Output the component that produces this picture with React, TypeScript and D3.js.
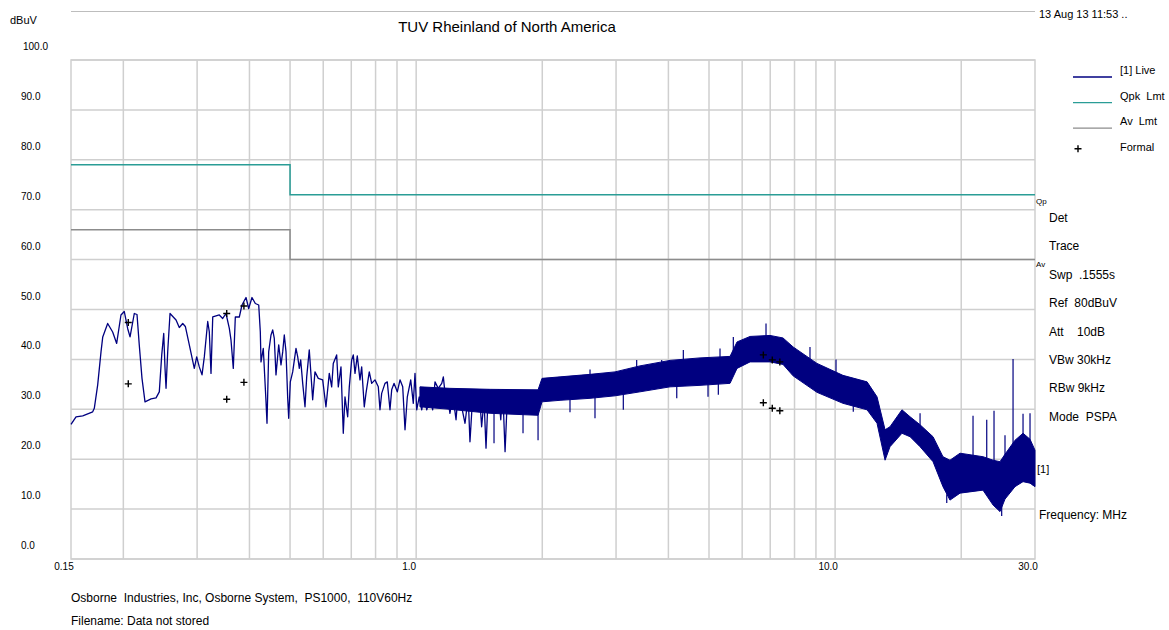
import React from 'react'
import * as d3 from 'd3'

// frequency axis (MHz) and level axis (dBuV)
const xTickLabels = [
  { f: 0.15, label: '0.15' },
  { f: 1, label: '1.0' },
  { f: 10, label: '10.0' },
  { f: 30, label: '30.0' },
]
const yTicks = [0, 10, 20, 30, 40, 50, 60, 70, 80, 90, 100]
const gridFreqs = [0.2, 0.3, 0.4, 0.5, 0.6, 0.7, 0.8, 0.9, 1, 2, 3, 4, 5, 6, 7, 8, 9, 10, 20]

// limit lines [MHz, dBuV]
const qpkLimit = [[0.15, 79], [0.5, 79], [0.5, 73], [30, 73]]
const avLimit = [[0.15, 66], [0.5, 66], [0.5, 60], [30, 60]]

// live trace, low band part read point by point [MHz, dBuV]
const liveTrace = [
  [0.15, 27.0], [0.1542, 28.5], [0.16, 28.7], [0.169, 29.5], [0.1705, 30.2], [0.1737, 34.9], [0.1769, 41.5],
  [0.1786, 44.5], [0.1835, 47.2], [0.1886, 45.5], [0.1928, 43.2], [0.1974, 48.9], [0.201, 49.6], [0.2048, 46.2],
  [0.2075, 44.5], [0.2124, 49.2], [0.2156, 49.0], [0.2183, 42.9], [0.2216, 36.2], [0.2253, 31.5], [0.2329, 32.1],
  [0.2394, 32.3], [0.2437, 33.5], [0.247, 40.9], [0.2497, 45.2], [0.2515, 38.2], [0.2529, 34.2], [0.2552, 41.5],
  [0.2585, 49.2], [0.2672, 47.9], [0.272, 46.4], [0.2772, 47.2], [0.2812, 46.6], [0.2874, 42.9], [0.2954, 38.2],
  [0.2993, 40.5], [0.3036, 38.5], [0.3082, 36.9], [0.3121, 40.5], [0.318, 47.6], [0.3208, 45.5], [0.3238, 37.2],
  [0.3269, 48.5], [0.3389, 48.9], [0.3453, 48.2], [0.3516, 49.2], [0.3581, 46.2], [0.3614, 43.9], [0.366, 38.2],
  [0.3701, 48.5], [0.3783, 48.5], [0.3839, 50.9], [0.3925, 52.4], [0.3983, 50.2], [0.4056, 52.4], [0.4131, 51.2],
  [0.4209, 50.9], [0.4246, 45.5], [0.4262, 39.5], [0.4316, 42.2], [0.4381, 31.5], [0.4405, 27.2], [0.4446, 41.5],
  [0.4503, 44.9], [0.4545, 45.9], [0.4585, 44.2], [0.4628, 36.9], [0.4698, 42.9], [0.4757, 38.9], [0.4802, 41.5],
  [0.4844, 44.9], [0.489, 41.5], [0.4936, 32.2], [0.4963, 28.2], [0.5007, 35.5], [0.5073, 37.5], [0.5166, 42.2],
  [0.5215, 40.5], [0.5261, 38.2], [0.5301, 39.9], [0.536, 35.2], [0.5428, 30.5], [0.5479, 36.5], [0.5557, 41.9],
  [0.5631, 34.9], [0.5662, 31.9], [0.5734, 37.5], [0.5839, 36.2], [0.5982, 35.9], [0.6091, 30.5], [0.6203, 37.2],
  [0.6285, 34.5], [0.6341, 39.2], [0.646, 40.9], [0.6518, 34.5], [0.6615, 38.5], [0.6699, 25.2], [0.6762, 32.5],
  [0.6863, 28.5], [0.6924, 34.5], [0.7016, 39.9], [0.7078, 40.9], [0.7145, 37.2], [0.7235, 40.7], [0.7343, 35.9],
  [0.7412, 38.5], [0.7518, 30.5], [0.7589, 33.2], [0.7728, 37.5], [0.7831, 35.2], [0.7974, 35.9], [0.8121, 34.5],
  [0.8196, 29.9], [0.8273, 33.2], [0.8425, 35.2], [0.8532, 35.5], [0.866, 29.9], [0.8741, 33.9], [0.8853, 35.2],
  [0.9015, 33.5], [0.915, 35.9], [0.9287, 34.5], [0.9405, 25.9], [0.9525, 32.5], [0.9704, 35.9], [0.9844, 31.2],
  [0.9936, 37.2], [1.003, 29.9], [1.017, 32.5], [1.031, 29.9], [1.044, 32.9], [1.06, 29.9], [1.079, 32.2],
  [1.095, 29.9], [1.109, 35.5], [1.129, 34.2], [1.151, 35.2], [1.161, 36.5], [1.172, 33.2], [1.193, 31.5],
  [1.204, 29.2], [1.223, 32.9], [1.245, 27.9], [1.26, 33.5], [1.284, 30.5], [1.308, 27.2], [1.331, 32.5],
  [1.344, 23.5], [1.364, 32.5], [1.394, 31.2], [1.415, 33.5], [1.433, 26.5], [1.452, 31.9], [1.468, 22.2],
  [1.487, 33.9], [1.515, 30.5], [1.543, 31.2], [1.571, 33.9], [1.592, 27.9], [1.609, 33.9], [1.63, 21.5],
  [1.651, 32.5], [1.675, 30.5],
]

// dense part of the live trace as an envelope [MHz, top, bottom]
const liveBand = [
  [1.021, 34.5, 30.5], [1.204, 34.2, 30.0], [1.501, 34.0, 29.2], [1.954, 33.9, 28.8], [1.997, 36.2, 31.5],
  [2.205, 36.5, 31.8], [2.6, 37.0, 32.2], [2.983, 37.5, 32.7], [3.421, 38.7, 33.5], [4.036, 39.8, 34.5],
  [4.759, 40.3, 34.8], [5.613, 40.6, 35.2], [5.833, 43.5, 38.2], [6.266, 44.6, 39.5], [6.992, 44.8, 39.5],
  [7.509, 44.3, 39.0], [7.938, 42.5, 36.7], [9.051, 39.2, 33.4], [10.44, 36.8, 31.2], [11.92, 35.5, 29.9],
  [12.59, 32.5, 27.2], [13.16, 25.9, 19.8], [13.52, 26.5, 22.5], [14.44, 29.9, 25.2], [15.1, 28.5, 24.5],
  [15.95, 26.9, 22.5], [17.13, 24.5, 19.5], [18.09, 20.5, 14.5], [18.8, 19.8, 11.8], [19.87, 21.2, 13.2],
  [22.54, 20.5, 13.8], [23.83, 19.8, 10.8], [24.75, 19.5, 9.5], [25.44, 21.0, 12.0], [26.88, 23.8, 14.5],
  [28.09, 25.2, 15.5], [29.19, 24.0, 15.2], [30, 21.8, 14.5],
]

// single spikes out of the envelope [MHz, from, to]
const liveSpikes = [
  [1.534, 30, 23.2], [1.799, 30, 25.2], [1.954, 30, 23.8], [2.329, 32, 29.4], [2.6, 35, 38.0],
  [2.672, 33, 28.2], [3.122, 33, 29.9], [3.36, 37, 39.9], [3.855, 37, 39.9], [4.188, 35, 32.2],
  [4.342, 39, 41.9], [4.973, 36, 32.5], [5.263, 36, 32.9], [5.312, 39, 42.2], [5.715, 40, 44.5],
  [6.84, 43, 47.2], [8.71, 40, 42.5], [10.05, 36, 40.0], [11.05, 32, 29.5], [15.95, 25, 29.2],
  [18.47, 13, 11.2], [21.34, 18, 28.7], [23.01, 18, 27.9], [23.95, 17, 29.7], [24.98, 11, 8.6],
  [25.44, 20, 24.8], [26.59, 20, 40.1], [28.09, 22, 29.1], [29.19, 22, 29.2], [29.68, 16, 14.8],
]

// formal measurements
const formalQp = [[0.2055, 47.4], [0.353, 49.2], [0.388, 50.7], [6.74, 40.9], [7.08, 39.9], [7.38, 39.5]]
const formalAv = [[0.2055, 35.1], [0.353, 32.0], [0.388, 35.4], [6.74, 31.3], [7.08, 30.2], [7.38, 29.7]]

const legendItems = [
  { label: '[1] Live', color: '#000080', kind: 'line' },
  { label: 'Qpk  Lmt', color: '#2a9d96', kind: 'line' },
  { label: 'Av  Lmt', color: '#8c8c8c', kind: 'line' },
  { label: 'Formal', color: '#000', kind: 'plus' },
]
const settings = ['Det', 'Trace', 'Swp  .1555s', 'Ref  80dBuV', 'Att    10dB', 'VBw 30kHz', 'RBw 9kHz', 'Mode  PSPA']

const W = 1169
const H = 630
const FONT = "'Liberation Sans', Arial, sans-serif"
const GRID = '#cfcfcf'

const App = () => {
  const x = d3.scaleLog().domain([0.15, 30]).range([71, 1035])
  const y = d3.scaleLinear().domain([0, 100]).range([559, 60])

  const line = d3
    .line<number[]>()
    .x((d) => x(d[0]))
    .y((d) => y(d[1]))
  const band = d3
    .area<number[]>()
    .x((d) => x(d[0]))
    .y0((d) => y(d[2]))
    .y1((d) => y(d[1]))

  const plus = (cx: number, cy: number, k: string) => (
    <path key={k} d={`M${cx - 3.5},${cy}H${cx + 3.5}M${cx},${cy - 3.5}V${cy + 3.5}`} stroke="#000" strokeWidth={1.4} />
  )

  return (
    <div style={{ position: 'absolute', left: 0, top: 0 }}>
      <svg width={W} height={H} style={{ display: 'block', background: '#fff' }} fontFamily={FONT}>
        {/* header */}
        <line x1={71} x2={1035} y1={11.5} y2={11.5} stroke="#bdbdbd" />
        <text x={1039} y={18} fontSize={11}>13 Aug 13 11:53 ..</text>
        <text x={10} y={24} fontSize={11}>dBuV</text>
        <text x={507} y={32} fontSize={15} textAnchor="middle">TUV Rheinland of North America</text>

        {/* grid */}
        {gridFreqs.map((f) => (
          <line key={'gx' + f} x1={x(f)} x2={x(f)} y1={60} y2={559} stroke={GRID} strokeWidth={1.5} />
        ))}
        {yTicks.map((v) => (
          <line key={'gy' + v} x1={71} x2={1035} y1={y(v)} y2={y(v)} stroke={GRID} strokeWidth={1.5} />
        ))}
        <rect x={71} y={60} width={964} height={499} fill="none" stroke={GRID} strokeWidth={1.5} />

        {/* axis labels */}
        {yTicks.map((v) => (
          <text key={'ty' + v} x={v === 100 ? 23 : 21} y={y(v) - 10} fontSize={10}>
            {v.toFixed(1)}
          </text>
        ))}
        {xTickLabels.map((t) => (
          <text key={'tx' + t.f} x={x(t.f) - 7} y={570} fontSize={10} textAnchor="middle">
            {t.label}
          </text>
        ))}

        {/* limits */}
        <path d={line(qpkLimit) || ''} fill="none" stroke="#2a9d96" strokeWidth={1.5} />
        <path d={line(avLimit) || ''} fill="none" stroke="#8c8c8c" strokeWidth={1.5} />
        <text x={1036} y={204} fontSize={8} fill="#000">Qp</text>
        <text x={1036} y={267} fontSize={8} fill="#000">Av</text>

        {/* live trace */}
        <path d={band(liveBand) || ''} fill="#000080" stroke="#000080" strokeWidth={1} />
        {liveSpikes.map((s, i) => (
          <line key={'sp' + i} x1={x(s[0])} x2={x(s[0])} y1={y(s[1])} y2={y(s[2])} stroke="#000080" strokeWidth={1.2} />
        ))}
        <path d={line(liveTrace) || ''} fill="none" stroke="#000080" strokeWidth={1.3} strokeLinejoin="round" />

        {/* formal markers */}
        {formalQp.map((d, i) => plus(x(d[0]), y(d[1]), 'q' + i))}
        {formalAv.map((d, i) => plus(x(d[0]), y(d[1]), 'a' + i))}

        {/* legend */}
        {legendItems.map((it, i) => {
          const cy = 70 + i * 25.6
          return (
            <g key={it.label}>
              {it.kind === 'line' ? (
                <line x1={1073} x2={1112} y1={cy + 7} y2={cy + 7} stroke={it.color} strokeWidth={1.3} />
              ) : (
                plus(1078, cy + 2, 'lp')
              )}
              <text x={1120} y={cy + 4} fontSize={11} xmlSpace="preserve">
                {it.label}
              </text>
            </g>
          )
        })}

        {/* analyser settings */}
        {settings.map((s, i) => (
          <text key={s} x={1049} y={222 + i * 28.4} fontSize={12} xmlSpace="preserve">
            {s}
          </text>
        ))}
        <text x={1037} y={473} fontSize={11}>[1]</text>
        <text x={1039} y={519} fontSize={12}>Frequency: MHz</text>

        {/* footer */}
        <text x={71} y={602} fontSize={12} xmlSpace="preserve">
          {'Osborne  Industries, Inc, Osborne System,  PS1000,  110V60Hz'}
        </text>
        <text x={71} y={625} fontSize={12}>Filename: Data not stored</text>
      </svg>
    </div>
  )
}

export default App
